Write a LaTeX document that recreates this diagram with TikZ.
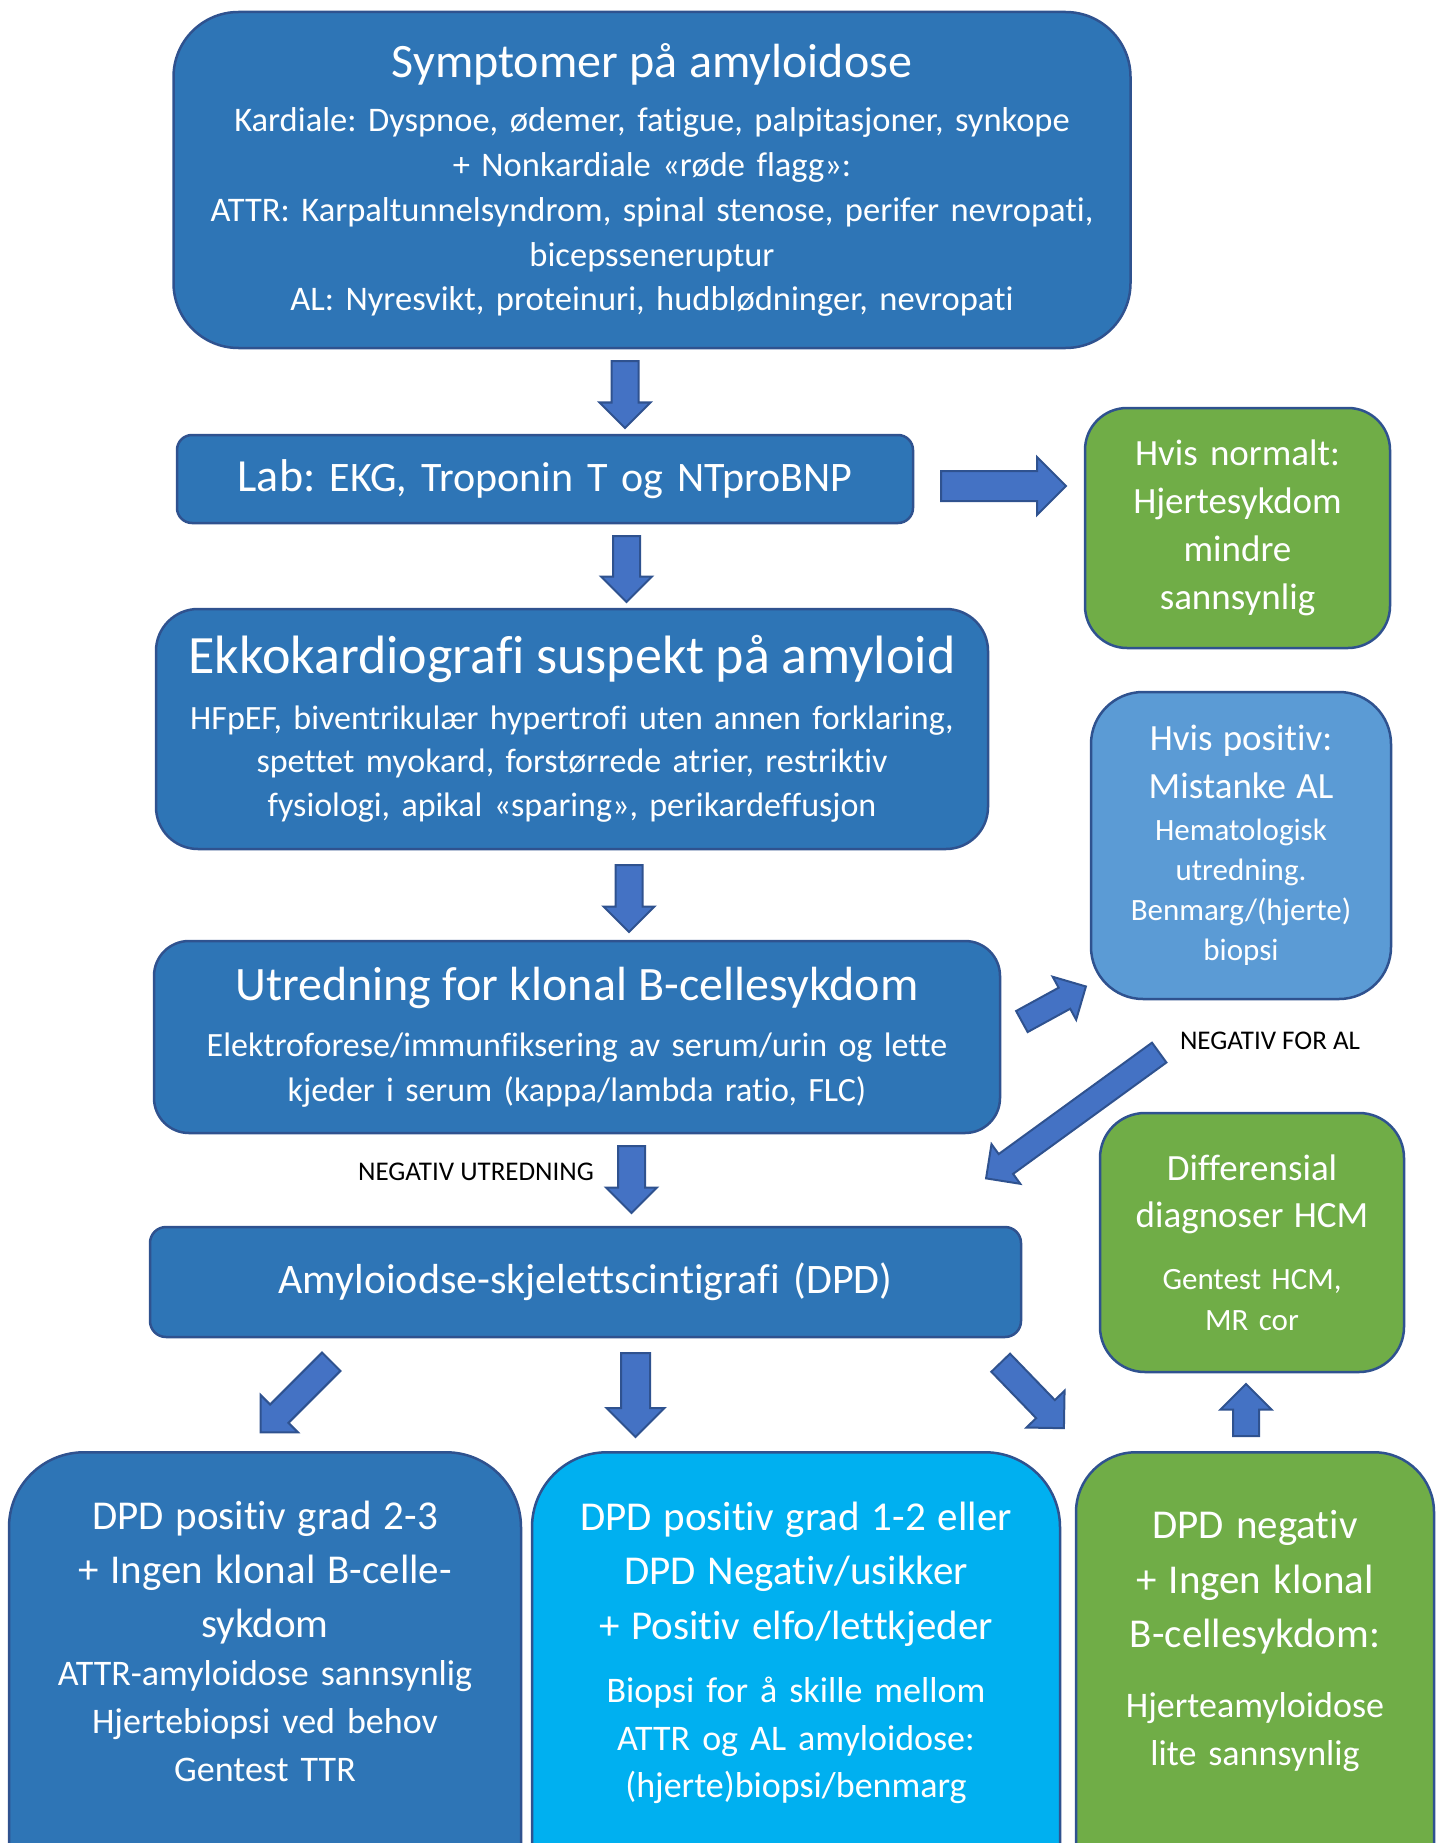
\documentclass[tikz,border=0pt]{standalone}
\usepackage{fontspec}
\setmainfont{Carlito}[Ligatures={NoCommon}]
\usetikzlibrary{shapes.arrows}
\definecolor{boxline}{HTML}{2F528F}
\definecolor{boxblue}{HTML}{2E75B6}
\definecolor{arrowfill}{HTML}{4472C4}
\definecolor{grass}{HTML}{70AD47}
\definecolor{sky}{HTML}{5B9BD5}
\definecolor{cyanbox}{HTML}{00B0F0}
\newcommand{\fsz}[2]{\fontsize{#1}{#2}\selectfont}
\tikzset{ bx/.style = { rectangle % box
        , draw = boxline
        , line width = 2.5pt
        , text = white
        , align = center
        , inner sep = 0pt
        }
        , ar/.style n args = {3}{ single arrow % block arrow
        , draw = boxline
        , fill = arrowfill
        , line width = 2pt
        , inner sep = 0pt
        , inner ysep = #1
        , single arrow head extend = #2
        , minimum height = #3
        , anchor = tail
        }
        , tx/.style = { text = white % text of the open boxes
        , align = center
        , inner sep = 0pt
        }
        , lb/.style = { font = \fsz{27}{32} % black label
        }
}

\begin{document}
\frenchspacing
\begin{tikzpicture}[x=1pt, y=-1pt]
\useasboundingbox (0,0) rectangle (1442,1843);
\clip (0,0) rectangle (1442,1843);

% left column
\node[bx, fill=boxblue, minimum width=957pt, minimum height=336pt, rounded corners=65pt, text width=945pt, font=\fsz{34.5}{44.7}] (sym) at (652,180)
    {\vspace*{8.5pt}{\fsz{48}{56}Symptomer på amyloidose\par}\vspace{1.5pt}Kardiale: Dyspnoe, ødemer, fatigue, palpitasjoner, synkope\\+ Nonkardiale «røde flagg»:\\ATTR: Karpaltunnelsyndrom, spinal stenose, perifer nevropati,\\bicepsseneruptur\\AL: Nyresvikt, proteinuri, hudblødninger, nevropati};
\node[bx, fill=boxblue, minimum width=736pt, minimum height=88pt, rounded corners=15pt, text width=725pt, font=\fsz{42}{48}] (lab) at (545,479)
    {{\fsz{46}{50}Lab:} EKG, Troponin T og NTproBNP};
\node[bx, fill=boxblue, minimum width=832pt, minimum height=240pt, rounded corners=42pt, text width=820pt, font=\fsz{34}{43.5}] (ekko) at (572,729)
    {\vspace*{9.5pt}{\fsz{54}{60}Ekkokardiografi suspekt på amyloid\par}\vspace{2.5pt}HFpEF, biventrikulær hypertrofi uten annen forklaring,\\spettet myokard, forstørrede atrier, restriktiv\\fysiologi, apikal «sparing», perikardeffusjon};
\node[bx, fill=boxblue, minimum width=846pt, minimum height=192pt, rounded corners=35pt, text width=835pt, font=\fsz{34}{44.7}] (klonal) at (577,1037)
    {\vspace*{8pt}{\fsz{48}{56}Utredning for klonal B-cellesykdom\par}\vspace{3.5pt}Elektroforese/immunfiksering av serum/urin og lette\\kjeder i serum (kappa/lambda ratio, FLC)};
\node[bx, fill=boxblue, minimum width=871pt, minimum height=110pt, rounded corners=16pt, text width=860pt, font=\fsz{42}{48}] (dpd) at (585.5,1282)
    {Amyloiodse-skjelettscintigrafi (DPD)};

% right column
\node[bx, fill=grass, minimum width=305pt, minimum height=240pt, rounded corners=42pt, text width=295pt, font=\fsz{37}{48}] (normal) at (1237.5,528)
    {Hvis normalt:\\Hjertesykdom\\mindre\\sannsynlig};
\node[bx, fill=sky, minimum width=300pt, minimum height=307pt, rounded corners=52pt, text width=290pt, font=\fsz{31}{40}] (alpos) at (1241,845.5)
    {\vspace*{2pt}{\fsz{37}{46}Hvis positiv:\\Mistanke AL\par}\vspace{2pt}Hematologisk\\utredning.\\Benmarg/(hjerte)\\biopsi};
\node[bx, fill=grass, minimum width=304pt, minimum height=259pt, rounded corners=45pt, text width=294pt, font=\fsz{31}{41}] (hcm) at (1252,1242.5)
    {{\fsz{37}{47}Differensial\\diagnoser HCM\par}\vspace{21pt}Gentest HCM,\\MR cor};

% bottom row
\node[bx, fill=boxblue, minimum width=512pt, minimum height=560pt, rounded corners=75pt, anchor=north] (attr) at (265,1451) {};
\node[bx, fill=cyanbox, minimum width=528pt, minimum height=560pt, rounded corners=75pt, anchor=north] (biopsi) at (796,1451) {};
\node[bx, fill=grass, minimum width=358pt, minimum height=560pt, rounded corners=60pt, anchor=north] (dpdneg) at (1255,1451) {};
\node[tx, text width=500pt, font=\fsz{36}{48}] (attrtx) at (265,1641)
    {{\fsz{41}{54}DPD positiv grad 2-3\\+ Ingen klonal B-celle-\\sykdom\par}ATTR-amyloidose sannsynlig\\Hjertebiopsi ved behov\\Gentest TTR};
\node[tx, text width=515pt, font=\fsz{36}{47.5}] (biopsitx) at (796,1653)
    {{\fsz{41}{54.5}DPD positiv grad 1-2 eller\\DPD Negativ/usikker\\+ Positiv elfo/lettkjeder\par}\vspace{16pt}Biopsi for å skille mellom\\ATTR og AL amyloidose:\\(hjerte)biopsi/benmarg};
\node[tx, text width=345pt, font=\fsz{36}{48}] (dpdnegtx) at (1255,1641)
    {{\fsz{41}{54.5}DPD negativ\\+ Ingen klonal\\B-cellesykdom:\par}\vspace{22pt}Hjerteamyloidose\\lite sannsynlig};

% block arrows
\node[ar={12.5pt}{12pt}{67pt}, rotate=-90] (a1) at (625,360) {};
\node[ar={14pt}{14pt}{125pt}] (a2) at (940,486) {};
\node[ar={12.5pt}{12pt}{66pt}, rotate=-90] (a3) at (626.5,535) {};
\node[ar={12.5pt}{12pt}{67pt}, rotate=-90] (a4) at (629,864) {};
\node[ar={12.5pt}{12pt}{67pt}, rotate=-90] (a5) at (631.5,1145) {};
\node[ar={11pt}{12.5pt}{73pt}, rotate=28.7] (a6) at (1021,1022) {};
\node[ar={11.25pt}{12.25pt}{214pt}, rotate=216] (a7) at (1160,1052) {};
\node[ar={12pt}{13.5pt}{100pt}, rotate=225] (a8) at (332,1361) {};
\node[ar={13.5pt}{14.5pt}{84pt}, rotate=-90] (a9) at (635.5,1352) {};
\node[ar={12pt}{13.5pt}{91pt}, rotate=-46] (a10) at (1000,1362) {};
\node[ar={12pt}{12.5pt}{52pt}, rotate=90] (a11) at (1246,1437) {};

% labels
\node[lb] (negal) at (1270,1041) {NEGATIV FOR AL};
\node[lb] (negutr) at (476,1172) {NEGATIV UTREDNING};
\end{tikzpicture}
\end{document}
